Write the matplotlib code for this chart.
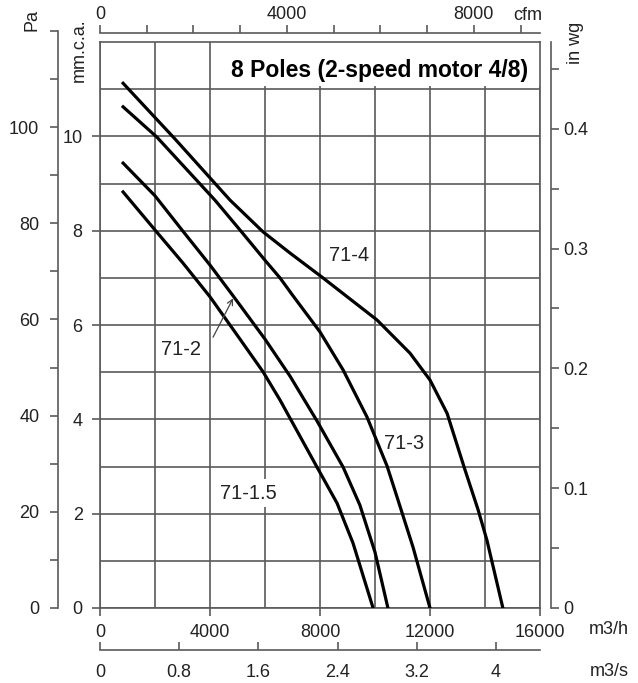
import matplotlib.pyplot as plt
from matplotlib.patches import Rectangle
import numpy as np

plt.rcParams['font.family'] = ['Liberation Sans', 'DejaVu Sans']

# fan curves, pressure in Pa against flow in m3/h
q_71_4 = [840, 2730, 4730, 5930, 6910, 8070, 10070, 11270, 12000, 12620, 13240, 13750, 14070, 14650]
p_71_4 = [109.1, 97.5, 84.8, 78.2, 73.8, 68.8, 59.9, 53.0, 47.4, 40.5, 29.3, 20.4, 14.1, 0]

q_71_3 = [840, 2070, 4180, 5090, 6000, 6550, 7020, 8000, 8840, 9710, 10440, 10800, 11380, 12000]
p_71_3 = [104.2, 97.9, 84.8, 78.6, 72.3, 68.6, 64.9, 57.4, 49.5, 39.7, 29.5, 23.1, 12.7, 0]

q_71_2 = [840, 2000, 2980, 4000, 4840, 6000, 6910, 7890, 8840, 9450, 10000, 10470]
p_71_2 = [92.5, 85.7, 78.6, 71.3, 64.9, 55.9, 48.2, 38.9, 29.3, 21.4, 11.6, 0]

q_71_15 = [840, 2000, 3020, 4000, 4980, 5930, 6550, 7890, 8620, 9200, 9930]
p_71_15 = [86.5, 78.6, 71.7, 64.7, 56.8, 49.1, 43.2, 29.3, 21.8, 13.5, 0]

curve_labels = ["71-4", "71-3", "71-2", "71-1.5"]
label_q = [9050, 11050, 2950, 5380]
label_p = [73.3, 34.1, 53.8, 23.9]

title = "8 Poles (2-speed motor 4/8)"

PA_MM = 9.80665
PA_INWG = 249.089
M3H_CFM = 1.69901
W, H = 638, 683
GRID = '#5a5a5a'
TXT = '#222222'
FS = 13
TL = 5.5

fig = plt.figure(figsize=(W / 100, H / 100), dpi=100)

def box(x0, y0, x1, y1):
    # pixel box (top-left origin) -> figure rect
    return [x0 / W, 1 - y1 / H, (x1 - x0) / W, (y1 - y0) / H]

left, right, top, bot = 100, 540, 42, 608
ax = fig.add_axes(box(left, top, right, bot))
ymax = 12 * PA_MM
ax.set_xlim(0, 16000)
ax.set_ylim(0, ymax)
px_per_pa = (bot - top) / ymax

for s in ax.spines.values():
    s.set_color(GRID)
    s.set_linewidth(1.2)

ax.set_xticks(np.arange(0, 16001, 4000))
ax.set_xticks(np.arange(0, 16001, 2000), minor=True)
ax.set_xticklabels([str(v) for v in range(0, 16001, 4000)])
ax.set_yticks([k * PA_MM for k in range(0, 12, 2)])
ax.set_yticklabels([str(k) for k in range(0, 12, 2)])
ax.set_yticks([k * PA_MM for k in range(1, 12, 2)], minor=True)
ax.tick_params(which='major', direction='out', length=TL, width=1.2, color=GRID,
               labelsize=FS, labelcolor=TXT)
ax.tick_params(axis='x', pad=6)
ax.tick_params(axis='y', pad=7)
ax.tick_params(which='minor', length=0)
ax.grid(True, which='both', color=GRID, lw=1.2)
ax.set_axisbelow(True)

# white patch behind the title
ax.add_patch(Rectangle((0.285, 11 * PA_MM + 0.6), 0.715, PA_MM, transform=ax.get_yaxis_transform(),
                       facecolor='white', edgecolor='none', zorder=1.5))
ax.text(10150, 111.8, title, fontsize=16.5, fontweight='bold', color='black',
        ha='center', va='center', zorder=3)

for q, p in [(q_71_4, p_71_4), (q_71_3, p_71_3), (q_71_2, p_71_2), (q_71_15, p_71_15)]:
    ax.plot(q, p, color='black', lw=2.3, solid_joinstyle='round', zorder=4)

for name, q, p in zip(curve_labels, label_q, label_p):
    ax.text(q, p, name, fontsize=14.5, color=TXT, ha='center', va='center', zorder=3,
            bbox=dict(facecolor='white', edgecolor='none', pad=3))

ax.annotate('', xy=(4840, 64.4), xytext=(4110, 56.3),
            arrowprops=dict(arrowstyle='->', color='#444444', lw=0.9, shrinkA=0, shrinkB=0),
            zorder=5)

# right axis, in wg
tw = ax.twinx()
tw.set_ylim(0, ymax / PA_INWG)
for k, s in tw.spines.items():
    s.set_visible(k == 'right')
tw.spines['right'].set_position(('outward', 8))
tw.spines['right'].set_color(GRID)
tw.spines['right'].set_linewidth(1.2)
tw.set_yticks(np.arange(0, 0.46, 0.1))
tw.set_yticklabels(['0', '0.1', '0.2', '0.3', '0.4'])
tw.set_yticks(np.arange(0.05, 0.47, 0.1), minor=True)
tw.tick_params(which='both', direction='out', length=TL, width=1.2, color=GRID,
               labelsize=FS, labelcolor=TXT, pad=3)

# left axis, Pa
pa_top = bot - 120 * px_per_pa
pa = fig.add_axes(box(58, pa_top, 59, bot))
pa.set_ylim(0, 120)
pa.patch.set_visible(False)
for k, s in pa.spines.items():
    s.set_visible(k == 'left')
pa.spines['left'].set_color(GRID)
pa.spines['left'].set_linewidth(1.2)
pa.set_xticks([])
pa.set_yticks(np.arange(0, 121, 20))
pa.set_yticklabels(['0', '20', '40', '60', '80', '100', ''])
pa.set_yticks(np.arange(10, 120, 20), minor=True)
pa.tick_params(which='both', direction='out', length=TL, width=1.2, color=GRID,
               labelsize=FS, labelcolor=TXT, pad=8)

# top axis, cfm
cf = fig.add_axes(box(left, 33, right, 33.5))
cf.set_xlim(0, 16000 / M3H_CFM)
cf.patch.set_visible(False)
for k, s in cf.spines.items():
    s.set_visible(k == 'top')
cf.spines['top'].set_color(GRID)
cf.spines['top'].set_linewidth(1.2)
cf.set_yticks([])
cf.xaxis.tick_top()
cf.set_xticks(np.arange(0, 9001, 1000))
cf.set_xticklabels(['0', '', '', '', '4000', '', '', '', '8000', ''])
cf.tick_params(direction='out', length=TL, width=1.2, color=GRID, labelsize=FS,
               labelcolor=TXT, pad=2)

# bottom axis, m3/s
ms = fig.add_axes(box(left, 649.5, right, 650))
ms.set_xlim(0, 16000 / 3600)
ms.patch.set_visible(False)
for k, s in ms.spines.items():
    s.set_visible(k == 'bottom')
ms.spines['bottom'].set_color(GRID)
ms.spines['bottom'].set_linewidth(1.2)
ms.set_yticks([])
ms.set_xticks([0, 0.8, 1.6, 2.4, 3.2, 4.0])
ms.set_xticklabels(['0', '0.8', '1.6', '2.4', '3.2', '4'])
ms.tick_params(direction='in', length=TL, width=1.2, color=GRID, labelsize=FS,
               labelcolor=TXT, pad=10)

fig.text(528 / W, 1 - 15 / H, 'cfm', fontsize=FS, color=TXT, ha='center', va='center')
fig.text(609 / W, 1 - 630 / H, 'm3/h', fontsize=FS, color=TXT, ha='center', va='center')
fig.text(609 / W, 1 - 671 / H, 'm3/s', fontsize=FS, color=TXT, ha='center', va='center')
fig.text(32 / W, 1 - 20 / H, 'Pa', fontsize=FS, color=TXT, ha='center', va='center', rotation=90)
fig.text(79 / W, 1 - 50 / H, 'mm.c.a.', fontsize=FS, color=TXT, ha='center', va='center', rotation=90)
fig.text(575 / W, 1 - 43 / H, 'in wg', fontsize=FS, color=TXT, ha='center', va='center', rotation=90)

fig.savefig('out.png', dpi=100)
